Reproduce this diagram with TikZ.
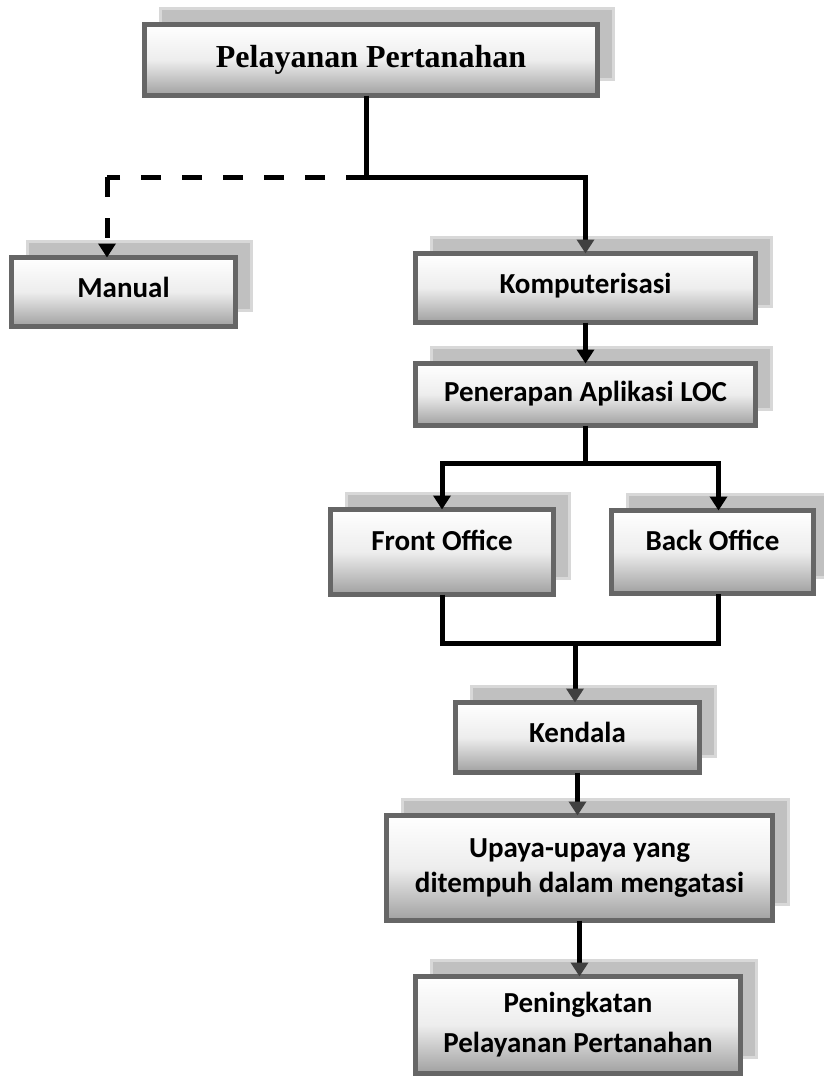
\documentclass[tikz,border=0pt]{standalone}
\usepackage{fontspec}
\setmainfont{Carlito}
\newfontfamily\judulfont{Liberation Serif}
\usetikzlibrary{arrows.meta,shadows,positioning}

\definecolor{garistepi}{HTML}{666666}
\definecolor{isibawah}{HTML}{A0A0A0}
\definecolor{bayangan}{HTML}{C0C0C0}
\definecolor{tepibayang}{HTML}{D8D8D8}

\begin{document}
\begin{tikzpicture}[x=1pt,y=-1pt,every node/.style={outer sep=0pt},
 kotak/.style={draw=garistepi,line width=5pt,top color=white,bottom color=isibawah,
 middle color=black!7,align=center,font=\bfseries\fontsize{29}{40}\selectfont,
 general shadow={shadow xshift=16pt,shadow yshift=16pt,fill=bayangan,
 draw=tepibayang,line width=3pt}},
 satu/.style={text height=20pt,text depth=10pt},
 garis/.style={line width=5pt},
 putus/.style={line width=5pt,dash pattern=on 20pt off 21pt},
 panah/.style={line width=5pt,-{Triangle[width=17pt,length=14pt]}},
 panahabu/.style={line width=5pt,-{Triangle[width=17pt,length=14pt,color=black!75,fill=black!75]}}]

\useasboundingbox (0,0) rectangle (824,1077);

% kotak-kotak
\node[kotak,minimum width=453pt,minimum height=71pt,
 font=\judulfont\bfseries\fontsize{32}{38}\selectfont] (pel) at (371,60) {Pelayanan Pertanahan};
\node[kotak,satu,minimum width=224pt,minimum height=69pt] (man) at (123.5,292) {Manual};
\node[kotak,satu,minimum width=340pt,minimum height=69pt] (kom) at (585.5,288) {Komputerisasi};
\node[kotak,satu,text depth=6pt,minimum width=340pt,minimum height=62pt] (loc) at (585.5,394.5)
 {Penerapan Aplikasi LOC};
\node[kotak,satu,text depth=24pt,minimum width=223pt,minimum height=85pt] (fo) at (442,552) {Front Office};
\node[kotak,satu,text depth=24pt,minimum width=202pt,minimum height=83pt] (bo) at (712.5,552) {Back Office};
\node[kotak,satu,text depth=11pt,minimum width=244pt,minimum height=70pt] (ken) at (577.5,737.5) {Kendala};
\node[kotak,minimum width=386pt,minimum height=105pt,
 font=\bfseries\fontsize{29}{35}\selectfont] (upa) at (579.5,868)
 {Upaya-upaya yang\\ditempuh dalam mengatasi};
\node[kotak,minimum width=325pt,minimum height=97pt] (tin) at (578,1025)
 {Peningkatan\\Pelayanan Pertanahan};

% titik cabang
\coordinate (cab) at (366,177);
\coordinate (kiri) at (107,177);
\coordinate (bagi) at (587,463);
\coordinate (gab) at (575,643);

\draw[garis] (cab |- pel.south) -- (cab);
\draw[panahabu] (cab) -| (kom.north);
\draw[putus] (cab) -- (kiri);
\draw[panah,dash pattern=on 20pt off 21pt] (kiri) -- (kiri |- man.north);
\draw[panah] (kom) -- (loc);
\draw[garis] (loc.south) -- (loc.south |- bagi);
\draw[panah] (loc.south |- bagi) -| (fo.north);
\draw[panah] (loc.south |- bagi) -| ([xshift=6pt]bo.north);
\draw[garis] (fo.south) |- (gab) -| ([xshift=6pt]bo.south);
\draw[panahabu] (gab) -- (gab |- ken.north);
\draw[panahabu] (ken.south) -- (ken.south |- upa.north);
\draw[panahabu] (upa.south) -- (upa.south |- tin.north);

\end{tikzpicture}
\end{document}
